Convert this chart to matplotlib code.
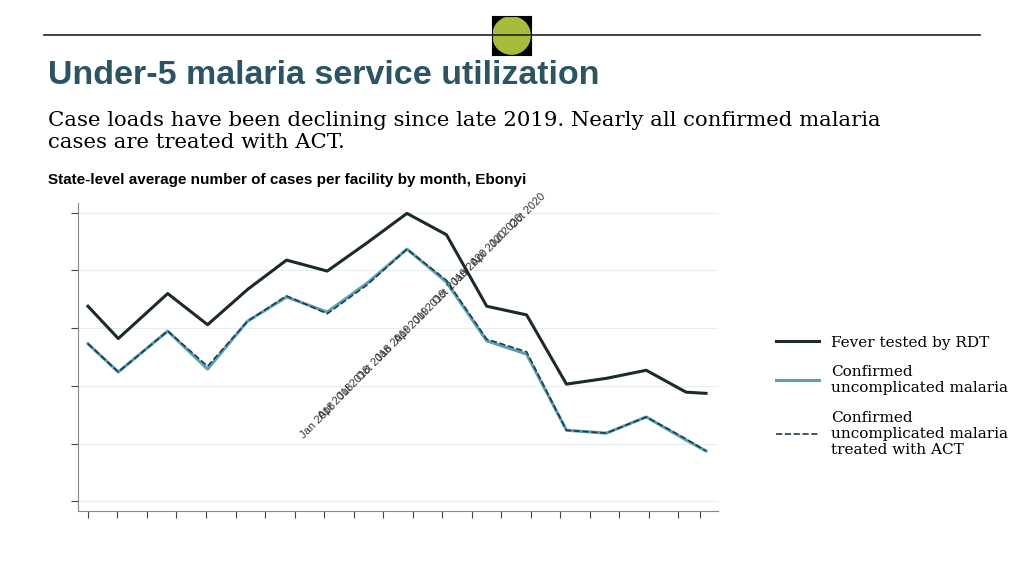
import matplotlib.pyplot as plt
from matplotlib.patches import Circle

# month positions (quarter-ish steps)
x_pos = [0, 0.76, 2.0, 3.0, 4.0, 4.98, 6.0, 7.0, 8.0, 8.99, 10.0, 11.0, 12.0, 13.0, 14.0, 15.0, 15.5]
fever_rdt = [3.38, 2.82, 3.60, 3.06, 3.67, 4.18, 3.99, 4.48, 4.99, 4.62, 3.38, 3.23, 2.03, 2.13, 2.27, 1.89, 1.87]
confirmed = [2.73, 2.24, 2.95, 2.29, 3.12, 3.54, 3.28, 3.78, 4.37, 3.80, 2.78, 2.55, 1.23, 1.18, 1.46, 1.06, 0.87]
treated_act = [2.73, 2.24, 2.95, 2.34, 3.12, 3.56, 3.25, 3.75, 4.37, 3.83, 2.81, 2.59, 1.23, 1.18, 1.46, 1.08, 0.87]
grid_vals = [0, 1, 2, 3, 4, 5]
tick_labels = ["Jan 2018", "Apr 2018", "Jul 2018", "Oct 2018", "Jan 2019", "Apr 2019",
               "Jul 2019", "Oct 2019", "Jan 2020", "Apr 2020", "Jul 2020", "Oct 2020"]
x_ticks = [0, 0.74, 1.48, 2.22, 2.96, 3.7, 4.44, 5.18, 5.92, 6.66, 7.4, 8.14,
           8.88, 9.62, 10.36, 11.1, 11.84, 12.58, 13.32, 14.06, 14.8, 15.34]

fig = plt.figure(figsize=(10.24, 5.75), dpi=100)
W, H = 1024, 575

# header rule and badge
fig.add_artist(plt.Line2D([44 / W, 980 / W], [1 - 35 / H] * 2, color="#222222", lw=1.2))
ax_c = fig.add_axes([492 / W, 1 - 55 / H, 39 / W, 39 / H])
ax_c.set_facecolor("black")
ax_c.add_patch(Circle((0.5, 0.5), 0.48, color="#a8bc3b"))
ax_c.set_xlim(0, 1); ax_c.set_ylim(0, 1)
ax_c.set_xticks([]); ax_c.set_yticks([])

fig.text(48 / W, 1 - 76 / H, "Under-5 malaria service utilization", fontsize=24.5, fontweight="bold",
         color="#2b5563", va="center", family="Liberation Sans")
fig.text(48 / W, 1 - 131 / H, "Case loads have been declining since late 2019. Nearly all confirmed malaria\ncases are treated with ACT.",
         fontsize=15.3, va="center", family="DejaVu Serif", linespacing=1.2)
fig.text(48 / W, 1 - 180 / H, "State-level average number of cases per facility by month, Ebonyi",
         fontsize=11, fontweight="bold", va="center", family="Liberation Sans")

ax = fig.add_axes([78 / W, 1 - 511 / H, 640 / W, 308 / H])
for g in grid_vals:
    ax.axhline(g, color="#e8eeee", lw=0.8, zorder=0)
ax.plot(x_pos, fever_rdt, color="#1b2a2a", lw=2.2, label="Fever tested by RDT")
ax.plot(x_pos, confirmed, color="#5aa0b4", lw=2.2, label="Confirmed\nuncomplicated malaria")
ax.plot(x_pos, treated_act, color="#1f3b4d", lw=1.2, ls="--", label="Confirmed\nuncomplicated malaria\ntreated with ACT")
ax.set_xlim(-0.25, 15.8)
ax.set_ylim(-0.17, 5.17)
ax.set_yticks(grid_vals)
ax.set_yticklabels([])
ax.set_xticks(x_ticks)
ax.set_xticklabels([])
ax.tick_params(length=5, color="#444444")
for s in ["top", "right"]:
    ax.spines[s].set_visible(False)
for s in ["left", "bottom"]:
    ax.spines[s].set_color("#888888")

# overlapping rotated date labels as they appear in the reference
for i, lab in enumerate(tick_labels):
    t = i / (len(tick_labels) - 1)
    px = 305 + t * (515 - 305)
    py = 440 - t * (440 - 230)
    fig.text(px / W, 1 - py / H, lab, rotation=45, fontsize=8, ha="left", va="bottom",
             color="#333333", family="Liberation Sans", rotation_mode="anchor")

fig.legend(loc="upper left", bbox_to_anchor=(762 / W, 1 - 322 / H), frameon=False,
           prop={"family": "DejaVu Serif", "size": 11}, handlelength=2.8, labelspacing=1.0)

fig.savefig("out.png", dpi=100)
